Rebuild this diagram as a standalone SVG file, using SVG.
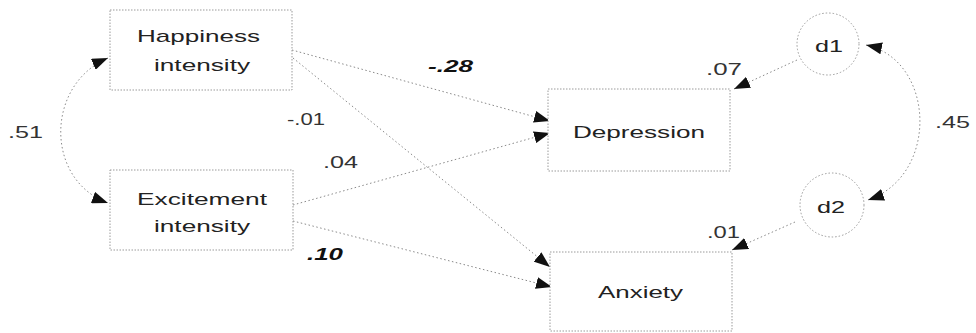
<svg xmlns="http://www.w3.org/2000/svg" width="976" height="333" viewBox="0 0 976 333">
  <defs>
    <marker id="head" markerUnits="userSpaceOnUse" markerWidth="18" markerHeight="12" refX="16" refY="6" orient="auto-start-reverse">
      <path d="M0,0 L16,6 L0,12 Z" fill="#111"/>
    </marker>
    <style>
      .box { fill: #fff; stroke: #9a9a9a; stroke-width: 1; stroke-dasharray: 1.5 1.5; }
      .err { fill: #fff; stroke: #9a9a9a; stroke-width: 1; stroke-dasharray: 1.5 2; }
      .path { fill: none; stroke: #8a8a8a; stroke-width: 1; stroke-dasharray: 1.5 2.5; }
      .arrow { marker-end: url(#head); }
      .both { marker-start: url(#head); marker-end: url(#head); }
      text { font-family: "Liberation Sans", Arial, sans-serif; font-size: 17px; fill: #222; }
      .coef { fill: #333; }
      .sig { font-weight: bold; font-style: italic; fill: #111; }
    </style>
  </defs>
  <rect width="976" height="333" fill="#fff"/>

  <!-- paths and covariances -->
  <g id="connectors">
    <path class="path both" d="M108,58 C45,85 45,180 108,203"/>
    <path class="path arrow" d="M292,50 L550,121"/>
    <path class="path arrow" d="M293,58 L550,267"/>
    <path class="path arrow" d="M293,205 L550,133"/>
    <path class="path arrow" d="M293,221 L552,287"/>
    <path class="path arrow" d="M797,60 L734,89"/>
    <path class="path arrow" d="M795,222 L732,250"/>
    <path class="path both" d="M866,45 C935,60 940,175 868,200"/>
  </g>

  <!-- coefficient labels -->
  <g id="labels">
    <text class="coef" x="8" y="138" textLength="35" lengthAdjust="spacingAndGlyphs">.51</text>
    <text class="sig" x="428" y="72" textLength="45" lengthAdjust="spacingAndGlyphs">-.28</text>
    <text class="coef" x="287" y="125" textLength="38" lengthAdjust="spacingAndGlyphs">-.01</text>
    <text class="coef" x="323" y="168" textLength="35" lengthAdjust="spacingAndGlyphs">.04</text>
    <text class="sig" x="307" y="260" textLength="36" lengthAdjust="spacingAndGlyphs">.10</text>
    <text class="coef" x="706" y="75" textLength="36" lengthAdjust="spacingAndGlyphs">.07</text>
    <text class="coef" x="707" y="238" textLength="33" lengthAdjust="spacingAndGlyphs">.01</text>
    <text class="coef" x="935" y="128" textLength="35" lengthAdjust="spacingAndGlyphs">.45</text>
  </g>

  <g id="happiness">
    <rect class="box" x="110" y="10" width="182" height="80"/>
    <text x="137" y="42" textLength="123" lengthAdjust="spacingAndGlyphs">Happiness</text>
    <text x="154" y="71" textLength="96" lengthAdjust="spacingAndGlyphs">intensity</text>
  </g>

  <g id="excitement">
    <rect class="box" x="110" y="170" width="183" height="80"/>
    <text x="137" y="205" textLength="130" lengthAdjust="spacingAndGlyphs">Excitement</text>
    <text x="154" y="232" textLength="96" lengthAdjust="spacingAndGlyphs">intensity</text>
  </g>

  <g id="depression">
    <rect class="box" x="548" y="89" width="182" height="82"/>
    <text x="573" y="138" textLength="132" lengthAdjust="spacingAndGlyphs">Depression</text>
  </g>

  <g id="anxiety">
    <rect class="box" x="550" y="252" width="182" height="79"/>
    <text x="598" y="298" textLength="85" lengthAdjust="spacingAndGlyphs">Anxiety</text>
  </g>

  <g id="d1">
    <circle class="err" cx="828" cy="44" r="31"/>
    <text x="815" y="52" textLength="28" lengthAdjust="spacingAndGlyphs">d1</text>
  </g>

  <g id="d2">
    <circle class="err" cx="832" cy="205" r="32"/>
    <text x="817" y="213" textLength="28" lengthAdjust="spacingAndGlyphs">d2</text>
  </g>
</svg>
